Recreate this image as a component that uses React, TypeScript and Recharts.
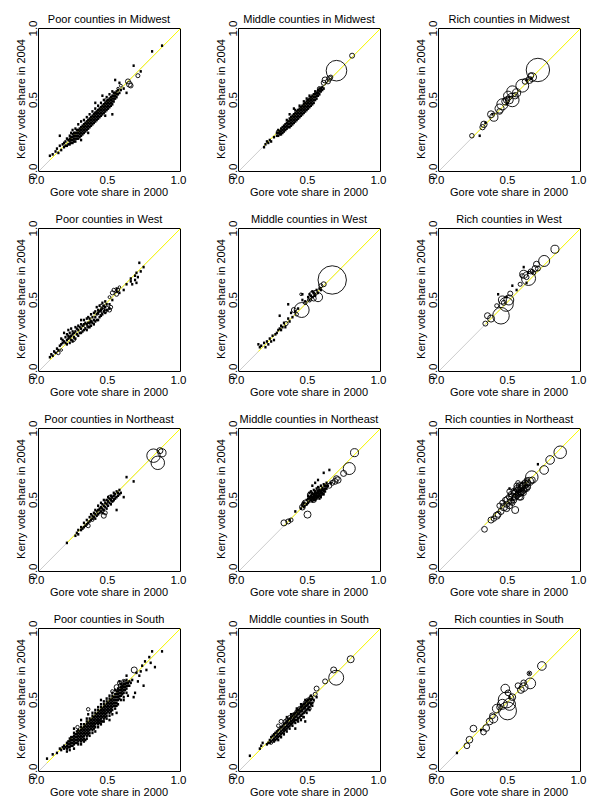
import React from "react";
import {
  ScatterChart,
  Scatter,
  XAxis,
  YAxis,
  ZAxis,
  ReferenceArea,
  ReferenceLine,
} from "recharts";

// Small counties: each row is [gore share, kerry share, kerry share, ...]
// Larger counties: each row is [gore share, kerry share, population in thousands]

const poorMidwestDots: number[][] = [
  [0.08, 0.11], [0.1, 0.12], [0.12, 0.14], [0.13, 0.16], [0.14, 0.13], [0.15, 0.18, 0.25],
  [0.16, 0.15], [0.17, 0.19], [0.18, 0.17, 0.2], [0.19, 0.21, 0.18], [0.2, 0.18, 0.23],
  [0.21, 0.19, 0.22], [0.22, 0.19, 0.21, 0.23, 0.25], [0.23, 0.2, 0.22, 0.24, 0.27],
  [0.24, 0.2, 0.22, 0.24, 0.26, 0.29], [0.25, 0.21, 0.23, 0.25, 0.27],
  [0.26, 0.21, 0.23, 0.25, 0.27, 0.3], [0.27, 0.23, 0.25, 0.27, 0.29],
  [0.28, 0.23, 0.25, 0.27, 0.29, 0.33], [0.29, 0.24, 0.26, 0.28, 0.3],
  [0.3, 0.22, 0.25, 0.27, 0.29, 0.31, 0.35], [0.31, 0.26, 0.28, 0.3, 0.32],
  [0.32, 0.27, 0.29, 0.31, 0.33, 0.36], [0.33, 0.28, 0.3, 0.32, 0.34],
  [0.34, 0.29, 0.31, 0.33, 0.35, 0.38], [0.35, 0.27, 0.3, 0.32, 0.34, 0.36],
  [0.36, 0.31, 0.33, 0.35, 0.37, 0.4], [0.37, 0.32, 0.34, 0.36, 0.38],
  [0.38, 0.33, 0.35, 0.37, 0.39, 0.42], [0.39, 0.34, 0.36, 0.38, 0.4],
  [0.4, 0.35, 0.37, 0.39, 0.41, 0.44, 0.48], [0.41, 0.36, 0.38, 0.4, 0.42],
  [0.42, 0.37, 0.39, 0.41, 0.43, 0.46], [0.43, 0.38, 0.4, 0.42, 0.44],
  [0.44, 0.39, 0.41, 0.43, 0.45, 0.48], [0.45, 0.4, 0.42, 0.44, 0.46, 0.53],
  [0.46, 0.41, 0.43, 0.45, 0.47, 0.5], [0.47, 0.39, 0.42, 0.44, 0.46, 0.48],
  [0.48, 0.43, 0.45, 0.47, 0.49, 0.52], [0.49, 0.44, 0.46, 0.48, 0.5],
  [0.5, 0.45, 0.47, 0.49, 0.51, 0.54], [0.51, 0.46, 0.48, 0.5, 0.52],
  [0.52, 0.4, 0.47, 0.49, 0.51, 0.53, 0.56], [0.53, 0.49, 0.51, 0.53, 0.55],
  [0.54, 0.51, 0.53, 0.55, 0.64], [0.55, 0.52, 0.54, 0.56], [0.56, 0.54, 0.57],
  [0.57, 0.55, 0.62], [0.58, 0.57], [0.6, 0.58], [0.62, 0.55], [0.67, 0.74],
  [0.72, 0.7], [0.8, 0.84], [0.87, 0.88],
];
const poorMidwestRings: number[][] = [
  [0.63, 0.63, 300], [0.64, 0.61, 400], [0.65, 0.6, 250], [0.7, 0.67, 200],
  [0.58, 0.6, 100], [0.47, 0.5, 70], [0.4, 0.41, 60], [0.56, 0.58, 80],
];

const middleMidwestDots: number[][] = [
  [0.18, 0.17], [0.19, 0.19], [0.2, 0.21], [0.21, 0.2], [0.22, 0.22], [0.23, 0.21],
  [0.25, 0.24], [0.27, 0.25, 0.27], [0.28, 0.25, 0.27, 0.29], [0.29, 0.26, 0.28],
  [0.3, 0.26, 0.28, 0.3], [0.31, 0.27, 0.29, 0.31], [0.32, 0.28, 0.3, 0.32],
  [0.33, 0.29, 0.31, 0.33], [0.34, 0.3, 0.32, 0.34, 0.36], [0.35, 0.31, 0.33, 0.35],
  [0.36, 0.31, 0.33, 0.35, 0.37, 0.4], [0.37, 0.32, 0.34, 0.36, 0.38],
  [0.38, 0.33, 0.35, 0.37, 0.39], [0.39, 0.34, 0.36, 0.38, 0.4, 0.44],
  [0.4, 0.35, 0.37, 0.39, 0.41, 0.43], [0.41, 0.36, 0.38, 0.4, 0.42],
  [0.42, 0.37, 0.39, 0.41, 0.43], [0.43, 0.38, 0.4, 0.42, 0.44, 0.46],
  [0.44, 0.39, 0.41, 0.43, 0.45], [0.45, 0.4, 0.42, 0.44, 0.46],
  [0.46, 0.41, 0.43, 0.45, 0.47, 0.49], [0.47, 0.42, 0.44, 0.46, 0.48],
  [0.48, 0.43, 0.45, 0.47, 0.49, 0.51], [0.49, 0.44, 0.46, 0.48, 0.5],
  [0.5, 0.45, 0.47, 0.49, 0.51, 0.53], [0.51, 0.46, 0.48, 0.5, 0.52],
  [0.52, 0.47, 0.49, 0.51, 0.53], [0.53, 0.48, 0.5, 0.52, 0.54],
  [0.54, 0.5, 0.52, 0.54, 0.56], [0.55, 0.51, 0.53, 0.55], [0.56, 0.53, 0.55, 0.57],
  [0.57, 0.54, 0.56, 0.58], [0.58, 0.56, 0.58], [0.59, 0.57, 0.59], [0.6, 0.58],
];
const middleMidwestRings: number[][] = [
  [0.28, 0.28, 150], [0.3, 0.27, 100], [0.33, 0.3, 80], [0.45, 0.45, 100],
  [0.5, 0.5, 120], [0.55, 0.55, 150], [0.57, 0.58, 200], [0.6, 0.62, 300],
  [0.61, 0.64, 450], [0.63, 0.63, 300], [0.64, 0.65, 350], [0.65, 0.66, 200],
  [0.69, 0.705, 5145], [0.8, 0.81, 300],
];

const richMidwestDots: number[][] = [
  [0.29, 0.25], [0.33, 0.34], [0.38, 0.4], [0.48, 0.47], [0.5, 0.52], [0.62, 0.64], [0.65, 0.65],
];
const richMidwestRings: number[][] = [
  [0.7, 0.71, 6640], [0.66, 0.66, 900], [0.64, 0.64, 600], [0.65, 0.67, 400],
  [0.59, 0.6, 2000], [0.52, 0.56, 1500], [0.52, 0.5, 2200], [0.49, 0.53, 1000],
  [0.5, 0.5, 700], [0.47, 0.49, 600], [0.45, 0.47, 1500], [0.43, 0.44, 1000],
  [0.39, 0.38, 800], [0.37, 0.4, 600], [0.32, 0.33, 500], [0.31, 0.31, 350],
  [0.235, 0.25, 250], [0.55, 0.55, 800], [0.61, 0.63, 400], [0.43, 0.42, 400],
  [0.48, 0.5, 500], [0.54, 0.53, 500],
];

const poorWestDots: number[][] = [
  [0.08, 0.1], [0.09, 0.12], [0.1, 0.11], [0.11, 0.14], [0.12, 0.13], [0.13, 0.16],
  [0.14, 0.15], [0.15, 0.18], [0.16, 0.19, 0.23], [0.17, 0.2, 0.22], [0.18, 0.21, 0.27],
  [0.19, 0.2, 0.24], [0.2, 0.19, 0.22, 0.26], [0.21, 0.23, 0.25, 0.29],
  [0.22, 0.2, 0.24, 0.27], [0.23, 0.22, 0.25, 0.3], [0.24, 0.21, 0.26, 0.28],
  [0.25, 0.24, 0.27], [0.26, 0.23, 0.28, 0.31], [0.27, 0.26, 0.3], [0.28, 0.25, 0.29, 0.32],
  [0.29, 0.27, 0.31], [0.3, 0.27, 0.3, 0.33, 0.36], [0.31, 0.28, 0.32], [0.32, 0.29, 0.33, 0.36],
  [0.33, 0.3, 0.34], [0.34, 0.29, 0.33, 0.37], [0.35, 0.31, 0.34, 0.38], [0.36, 0.31, 0.34, 0.37],
  [0.37, 0.32, 0.35, 0.4], [0.38, 0.34, 0.38], [0.39, 0.33, 0.36, 0.41], [0.4, 0.35, 0.38, 0.42],
  [0.41, 0.36, 0.4, 0.45], [0.42, 0.36, 0.41, 0.43], [0.43, 0.38, 0.42, 0.46],
  [0.44, 0.39, 0.43], [0.45, 0.4, 0.44, 0.48], [0.46, 0.42, 0.46], [0.47, 0.41, 0.45, 0.49],
  [0.48, 0.43, 0.47], [0.5, 0.44, 0.47], [0.52, 0.5], [0.55, 0.56, 0.58], [0.57, 0.55],
  [0.6, 0.57], [0.62, 0.61], [0.65, 0.63, 0.65], [0.66, 0.61], [0.68, 0.64, 0.67],
  [0.69, 0.62, 0.69], [0.7, 0.66], [0.71, 0.76], [0.72, 0.7], [0.74, 0.73],
];
const poorWestRings: number[][] = [
  [0.14, 0.13, 150], [0.16, 0.15, 80], [0.25, 0.22, 100], [0.22, 0.24, 80],
  [0.33, 0.32, 150], [0.35, 0.33, 120], [0.37, 0.35, 100], [0.43, 0.41, 200],
  [0.45, 0.43, 250], [0.47, 0.42, 150], [0.48, 0.44, 300], [0.5, 0.43, 200],
  [0.51, 0.45, 150], [0.44, 0.46, 120], [0.52, 0.55, 200], [0.53, 0.57, 150],
  [0.55, 0.54, 200], [0.56, 0.57, 120], [0.5, 0.52, 100], [0.57, 0.59, 80],
];

const middleWestDots: number[][] = [
  [0.14, 0.19], [0.15, 0.17], [0.16, 0.18], [0.18, 0.2], [0.19, 0.17], [0.2, 0.21],
  [0.21, 0.19], [0.22, 0.23], [0.23, 0.21], [0.24, 0.25], [0.25, 0.22], [0.26, 0.26],
  [0.27, 0.27], [0.28, 0.29], [0.29, 0.3, 0.39], [0.3, 0.29, 0.32], [0.31, 0.31],
  [0.32, 0.34], [0.33, 0.31], [0.35, 0.37, 0.47], [0.36, 0.35], [0.37, 0.41],
  [0.38, 0.38], [0.4, 0.42], [0.42, 0.44], [0.45, 0.5, 0.54], [0.47, 0.49], [0.49, 0.52],
  [0.5, 0.5, 0.54], [0.51, 0.53], [0.52, 0.52, 0.56], [0.53, 0.55], [0.54, 0.53],
  [0.55, 0.57], [0.56, 0.55], [0.57, 0.58], [0.58, 0.57],
];
const middleWestRings: number[][] = [
  [0.66, 0.64, 9780], [0.445, 0.43, 2700], [0.56, 0.52, 1000], [0.52, 0.54, 440],
  [0.54, 0.55, 300], [0.5, 0.5, 200], [0.39, 0.43, 300], [0.335, 0.335, 200],
  [0.6, 0.61, 300], [0.58, 0.6, 200], [0.53, 0.51, 300], [0.44, 0.54, 80],
  [0.47, 0.48, 150], [0.41, 0.4, 150],
];

const richWestDots: number[][] = [
  [0.42, 0.54], [0.52, 0.6], [0.55, 0.57], [0.6, 0.73], [0.62, 0.62], [0.48, 0.52], [0.63, 0.69],
];
const richWestRings: number[][] = [
  [0.82, 0.855, 780], [0.744, 0.773, 1470], [0.69, 0.75, 440], [0.68, 0.72, 440],
  [0.66, 0.7, 200], [0.67, 0.69, 200], [0.634, 0.651, 2400], [0.6, 0.68, 780],
  [0.575, 0.61, 200], [0.59, 0.67, 200], [0.62, 0.66, 300], [0.495, 0.5, 1200],
  [0.45, 0.5, 780], [0.477, 0.47, 2400], [0.44, 0.39, 3340], [0.41, 0.46, 200],
  [0.37, 0.37, 600], [0.345, 0.39, 440], [0.33, 0.335, 300], [0.505, 0.545, 300],
  [0.65, 0.7, 300], [0.7, 0.72, 300], [0.46, 0.48, 300],
];

const poorNortheastDots: number[][] = [
  [0.2, 0.2], [0.26, 0.25], [0.27, 0.27], [0.28, 0.26, 0.29], [0.3, 0.29, 0.31], [0.31, 0.3],
  [0.32, 0.31, 0.34], [0.33, 0.32], [0.34, 0.33, 0.36], [0.35, 0.34], [0.36, 0.35, 0.38],
  [0.37, 0.36, 0.4], [0.38, 0.37, 0.39], [0.39, 0.38, 0.41], [0.4, 0.37, 0.4, 0.43],
  [0.41, 0.39, 0.42], [0.42, 0.4, 0.43, 0.46], [0.43, 0.41, 0.44], [0.44, 0.42, 0.45, 0.48],
  [0.45, 0.41, 0.44, 0.47], [0.46, 0.43, 0.46, 0.5], [0.47, 0.45, 0.48], [0.48, 0.44, 0.47, 0.5],
  [0.49, 0.46, 0.49, 0.52], [0.5, 0.48, 0.51], [0.51, 0.47, 0.5, 0.53], [0.52, 0.49, 0.52],
  [0.53, 0.5, 0.53, 0.55], [0.54, 0.51, 0.54], [0.55, 0.43, 0.52, 0.56], [0.56, 0.53, 0.55],
  [0.57, 0.54, 0.57], [0.58, 0.55], [0.6, 0.52], [0.62, 0.66], [0.67, 0.63],
];
const poorNortheastRings: number[][] = [
  [0.81, 0.81, 2200], [0.84, 0.76, 2200], [0.87, 0.83, 780], [0.855, 0.845, 440],
  [0.46, 0.39, 300], [0.47, 0.41, 200], [0.52, 0.5, 200], [0.35, 0.32, 200],
  [0.5, 0.52, 150], [0.48, 0.49, 150], [0.44, 0.43, 120], [0.53, 0.52, 150], [0.38, 0.36, 100],
];

const middleNortheastDots: number[][] = [
  [0.36, 0.36], [0.4, 0.42], [0.44, 0.44], [0.45, 0.46], [0.46, 0.45, 0.48], [0.48, 0.47, 0.5],
  [0.49, 0.48, 0.51, 0.53], [0.5, 0.49, 0.51, 0.52, 0.55], [0.51, 0.5, 0.52, 0.53, 0.56],
  [0.52, 0.49, 0.51, 0.52, 0.54, 0.55, 0.6], [0.53, 0.5, 0.51, 0.53, 0.54, 0.57],
  [0.54, 0.5, 0.52, 0.53, 0.55, 0.56, 0.62], [0.55, 0.51, 0.52, 0.54, 0.55, 0.58],
  [0.56, 0.52, 0.53, 0.55, 0.56, 0.59, 0.64], [0.57, 0.51, 0.53, 0.54, 0.56, 0.57],
  [0.58, 0.52, 0.53, 0.55, 0.56, 0.6], [0.59, 0.54, 0.55, 0.57, 0.58], [0.6, 0.54, 0.56, 0.57, 0.61, 0.69],
  [0.61, 0.56, 0.58, 0.6], [0.62, 0.58, 0.6, 0.62], [0.63, 0.6], [0.64, 0.71], [0.65, 0.62],
];
const middleNortheastRings: number[][] = [
  [0.817, 0.831, 780], [0.78, 0.72, 1750], [0.74, 0.686, 440], [0.7, 0.64, 500],
  [0.68, 0.63, 400], [0.69, 0.65, 400], [0.66, 0.62, 300], [0.64, 0.6, 300],
  [0.32, 0.34, 440], [0.35, 0.35, 300], [0.37, 0.36, 200], [0.486, 0.398, 600],
  [0.45, 0.45, 400], [0.47, 0.48, 400], [0.46, 0.47, 300], [0.52, 0.52, 300],
  [0.53, 0.5, 300], [0.55, 0.55, 300], [0.57, 0.56, 300], [0.58, 0.58, 200],
  [0.61, 0.59, 200], [0.5, 0.54, 200], [0.54, 0.52, 200], [0.56, 0.54, 200],
];

const richNortheastDots: number[][] = [
  [0.7, 0.75], [0.5, 0.58], [0.53, 0.57], [0.57, 0.6], [0.59, 0.62], [0.6, 0.58], [0.55, 0.56],
  [0.56, 0.55], [0.58, 0.57], [0.54, 0.54], [0.61, 0.6], [0.52, 0.51],
];
const richNortheastRings: number[][] = [
  [0.857, 0.834, 1900], [0.786, 0.78, 900], [0.744, 0.71, 900], [0.657, 0.66, 1900],
  [0.64, 0.63, 800], [0.54, 0.43, 600], [0.324, 0.295, 400], [0.41, 0.39, 600],
  [0.37, 0.36, 450], [0.39, 0.37, 350], [0.44, 0.42, 450], [0.46, 0.45, 650],
  [0.48, 0.47, 450], [0.49, 0.5, 800], [0.5, 0.46, 450], [0.52, 0.52, 650],
  [0.53, 0.5, 450], [0.54, 0.55, 650], [0.55, 0.53, 450], [0.56, 0.57, 450],
  [0.57, 0.55, 650], [0.58, 0.58, 450], [0.59, 0.56, 450], [0.6, 0.6, 650],
  [0.61, 0.58, 450], [0.62, 0.61, 450], [0.6, 0.55, 350], [0.58, 0.52, 450],
  [0.63, 0.59, 350], [0.51, 0.54, 350], [0.55, 0.6, 350], [0.52, 0.48, 350],
  [0.47, 0.5, 350], [0.43, 0.46, 350], [0.56, 0.62, 250], [0.62, 0.64, 250],
  [0.5, 0.52, 450], [0.51, 0.49, 450], [0.53, 0.56, 450], [0.54, 0.52, 450],
  [0.55, 0.58, 450], [0.56, 0.54, 450], [0.57, 0.6, 450], [0.58, 0.55, 450],
  [0.59, 0.6, 450], [0.6, 0.57, 450], [0.61, 0.62, 450], [0.62, 0.58, 450],
  [0.63, 0.62, 450], [0.57, 0.52, 450], [0.48, 0.44, 450], [0.45, 0.48, 350],
  [0.42, 0.4, 450], [0.66, 0.64, 450], [0.5, 0.56, 350],
];

const poorSouthDots: number[][] = [
  [0.06, 0.09], [0.1, 0.12], [0.13, 0.13], [0.15, 0.16], [0.16, 0.15], [0.17, 0.17],
  [0.18, 0.16, 0.18], [0.19, 0.17], [0.2, 0.14, 0.16, 0.18, 0.2], [0.21, 0.17, 0.19, 0.21],
  [0.22, 0.15, 0.17, 0.19, 0.21, 0.23], [0.23, 0.18, 0.2, 0.22, 0.24], [0.24, 0.18, 0.2, 0.22, 0.24],
  [0.25, 0.16, 0.19, 0.21, 0.23, 0.25, 0.27, 0.3], [0.26, 0.2, 0.22, 0.24, 0.26],
  [0.27, 0.2, 0.22, 0.24, 0.26, 0.28], [0.28, 0.19, 0.21, 0.23, 0.25, 0.27, 0.29],
  [0.29, 0.22, 0.24, 0.26, 0.28], [0.3, 0.19, 0.21, 0.23, 0.25, 0.27, 0.29, 0.31, 0.33, 0.36],
  [0.31, 0.22, 0.24, 0.26, 0.28, 0.3], [0.32, 0.21, 0.23, 0.25, 0.27, 0.29, 0.31, 0.33],
  [0.33, 0.22, 0.26, 0.28, 0.3, 0.32], [0.34, 0.23, 0.25, 0.27, 0.29, 0.31, 0.33, 0.35, 0.37],
  [0.35, 0.26, 0.28, 0.3, 0.32, 0.34, 0.4], [0.36, 0.25, 0.27, 0.29, 0.31, 0.33, 0.35, 0.37],
  [0.37, 0.3, 0.32, 0.34, 0.36], [0.38, 0.27, 0.29, 0.31, 0.33, 0.35, 0.37, 0.39, 0.41],
  [0.39, 0.3, 0.32, 0.34, 0.36, 0.38], [0.4, 0.28, 0.31, 0.33, 0.35, 0.37, 0.39, 0.41, 0.43],
  [0.41, 0.34, 0.36, 0.38, 0.4], [0.42, 0.31, 0.33, 0.35, 0.37, 0.39, 0.41, 0.43, 0.45],
  [0.43, 0.34, 0.36, 0.38, 0.4, 0.42], [0.44, 0.33, 0.35, 0.37, 0.39, 0.41, 0.43, 0.45, 0.47, 0.5],
  [0.45, 0.35, 0.38, 0.4, 0.42, 0.44], [0.46, 0.35, 0.37, 0.39, 0.41, 0.43, 0.45, 0.47, 0.49],
  [0.47, 0.38, 0.4, 0.42, 0.44, 0.46], [0.48, 0.37, 0.39, 0.41, 0.43, 0.45, 0.47, 0.49, 0.51],
  [0.49, 0.42, 0.44, 0.46, 0.48], [0.5, 0.36, 0.39, 0.41, 0.43, 0.45, 0.47, 0.49, 0.51, 0.53],
  [0.51, 0.42, 0.44, 0.46, 0.48, 0.5], [0.52, 0.4, 0.43, 0.45, 0.47, 0.49, 0.51, 0.53, 0.55],
  [0.53, 0.46, 0.48, 0.5, 0.52], [0.54, 0.44, 0.46, 0.48, 0.5, 0.52, 0.54, 0.57],
  [0.55, 0.41, 0.46, 0.48, 0.5, 0.52, 0.54, 0.56], [0.56, 0.47, 0.5, 0.52, 0.54, 0.56, 0.58],
  [0.57, 0.51, 0.53, 0.55, 0.57, 0.63], [0.58, 0.5, 0.53, 0.55, 0.57, 0.59, 0.61],
  [0.59, 0.54, 0.56, 0.58, 0.6], [0.6, 0.5, 0.52, 0.55, 0.57, 0.59, 0.61, 0.63],
  [0.61, 0.57, 0.59, 0.61], [0.62, 0.55, 0.58, 0.6, 0.62, 0.64, 0.67], [0.63, 0.53, 0.6, 0.62],
  [0.64, 0.6, 0.63], [0.65, 0.62], [0.66, 0.64], [0.67, 0.52], [0.68, 0.55], [0.69, 0.69],
  [0.7, 0.63], [0.71, 0.67], [0.72, 0.7], [0.73, 0.74], [0.74, 0.6], [0.75, 0.77],
  [0.76, 0.71], [0.78, 0.8], [0.79, 0.76], [0.8, 0.84], [0.82, 0.73], [0.87, 0.84],
];
const poorSouthRings: number[][] = [
  [0.674, 0.71, 440], [0.55, 0.59, 300], [0.58, 0.6, 300], [0.57, 0.62, 200],
  [0.35, 0.435, 150], [0.275, 0.31, 150], [0.6, 0.63, 200], [0.52, 0.56, 150],
  [0.45, 0.42, 100], [0.38, 0.33, 100], [0.42, 0.35, 80],
];

const middleSouthDots: number[][] = [
  [0.08, 0.11], [0.15, 0.16], [0.16, 0.18], [0.17, 0.2], [0.2, 0.19], [0.21, 0.2],
  [0.22, 0.2, 0.22], [0.23, 0.21, 0.24], [0.24, 0.22, 0.25], [0.25, 0.21, 0.23, 0.26],
  [0.26, 0.22, 0.24, 0.27], [0.27, 0.23, 0.25, 0.28], [0.28, 0.22, 0.24, 0.26, 0.29],
  [0.29, 0.25, 0.27, 0.3], [0.3, 0.24, 0.26, 0.28, 0.31], [0.31, 0.27, 0.29, 0.32],
  [0.32, 0.26, 0.28, 0.3, 0.33], [0.33, 0.29, 0.31, 0.34], [0.34, 0.28, 0.3, 0.32, 0.35, 0.38],
  [0.35, 0.31, 0.33, 0.36], [0.36, 0.3, 0.32, 0.34, 0.37], [0.37, 0.33, 0.35, 0.38, 0.4],
  [0.38, 0.32, 0.34, 0.36, 0.39], [0.39, 0.35, 0.37, 0.4], [0.4, 0.3, 0.34, 0.36, 0.38, 0.41],
  [0.41, 0.36, 0.39, 0.42, 0.44], [0.42, 0.35, 0.37, 0.4, 0.43], [0.43, 0.38, 0.41, 0.44],
  [0.44, 0.36, 0.39, 0.42, 0.45, 0.47], [0.45, 0.4, 0.43, 0.46], [0.46, 0.38, 0.41, 0.44, 0.47],
  [0.47, 0.35, 0.42, 0.45, 0.48, 0.5], [0.48, 0.41, 0.43, 0.46, 0.49], [0.49, 0.44, 0.47, 0.5],
  [0.5, 0.43, 0.45, 0.48, 0.51], [0.51, 0.47, 0.5, 0.53], [0.52, 0.46, 0.48, 0.51], [0.53, 0.5],
  [0.55, 0.52],
];
const middleSouthRings: number[][] = [
  [0.28, 0.32, 150], [0.3, 0.35, 200], [0.32, 0.3, 150], [0.33, 0.35, 200],
  [0.35, 0.33, 200], [0.36, 0.38, 150], [0.38, 0.36, 200], [0.39, 0.4, 150],
  [0.4, 0.37, 200], [0.41, 0.42, 150], [0.42, 0.39, 200], [0.43, 0.44, 200],
  [0.44, 0.41, 200], [0.45, 0.46, 150], [0.46, 0.43, 200], [0.47, 0.48, 200],
  [0.48, 0.45, 150], [0.49, 0.5, 200], [0.5, 0.47, 200], [0.51, 0.52, 150],
  [0.52, 0.49, 150], [0.54, 0.54, 200], [0.55, 0.58, 300], [0.61, 0.63, 300],
  [0.67, 0.71, 440], [0.688, 0.656, 2700], [0.79, 0.785, 600], [0.26, 0.26, 150],
  [0.25, 0.22, 100], [0.23, 0.2, 100], [0.34, 0.36, 150], [0.37, 0.34, 150],
  [0.44, 0.38, 150], [0.46, 0.46, 150], [0.5, 0.44, 150], [0.42, 0.42, 150],
];

const richSouthDots: number[][] = [
  [0.13, 0.13], [0.64, 0.686], [0.5, 0.52], [0.3, 0.29],
];
const richSouthRings: number[][] = [
  [0.728, 0.738, 900], [0.64, 0.686, 250], [0.646, 0.616, 1400], [0.6, 0.59, 900],
  [0.58, 0.57, 550], [0.6, 0.62, 400], [0.47, 0.58, 900], [0.477, 0.5, 3100],
  [0.486, 0.424, 3900], [0.5, 0.47, 1750], [0.45, 0.47, 1200], [0.41, 0.44, 900],
  [0.387, 0.37, 900], [0.36, 0.35, 550], [0.336, 0.304, 550], [0.246, 0.3, 550],
  [0.317, 0.276, 400], [0.218, 0.222, 550], [0.2, 0.18, 400], [0.52, 0.52, 550],
  [0.43, 0.45, 400], [0.49, 0.55, 400], [0.38, 0.39, 400], [0.56, 0.6, 400],
];

const axisTicks = [0, 0.5, 1];
const FONT = "Arial, 'Liberation Sans', Helvetica, sans-serif";

const panels = [
  { title: "Poor counties in Midwest", dots: poorMidwestDots, rings: poorMidwestRings },
  { title: "Middle counties in Midwest", dots: middleMidwestDots, rings: middleMidwestRings },
  { title: "Rich counties in Midwest", dots: richMidwestDots, rings: richMidwestRings },
  { title: "Poor counties in West", dots: poorWestDots, rings: poorWestRings },
  { title: "Middle counties in West", dots: middleWestDots, rings: middleWestRings },
  { title: "Rich counties in West", dots: richWestDots, rings: richWestRings },
  { title: "Poor counties in Northeast", dots: poorNortheastDots, rings: poorNortheastRings },
  { title: "Middle counties in Northeast", dots: middleNortheastDots, rings: middleNortheastRings },
  { title: "Rich counties in Northeast", dots: richNortheastDots, rings: richNortheastRings },
  { title: "Poor counties in South", dots: poorSouthDots, rings: poorSouthRings },
  { title: "Middle counties in South", dots: middleSouthDots, rings: middleSouthRings },
  { title: "Rich counties in South", dots: richSouthDots, rings: richSouthRings },
];

const toDots = (cols: number[][]) =>
  cols.flatMap(([gore, ...kerrys]) => kerrys.map((kerry) => ({ gore, kerry })));
const toRings = (rows: number[][]) =>
  rows.map(([gore, kerry, pop]) => ({ gore, kerry, pop }));

// tiny counties come out as little dark specks
const DotShape = (props: any) => (
  <rect x={props.cx - 1.1} y={props.cy - 1.3} width={2.2} height={2.6} fill="#000" />
);

// circle area follows population (ZAxis scale)
const RingShape = (props: any) => {
  const r =
    props.size != null
      ? Math.sqrt(props.size / Math.PI)
      : (props.width ?? 0) / 2;
  return (
    <circle cx={props.cx} cy={props.cy} r={Math.max(r, 1)} fill="none" stroke="#000" strokeWidth={0.9} />
  );
};

const XTick = ({ x, payload }: any) => (
  <text x={x - 2} y={183.5} textAnchor="middle" fontSize={11.5} fontFamily={FONT} fill="#000">
    {Number(payload.value).toFixed(1)}
  </text>
);

const YTick = ({ y, payload }: any) => (
  <text
    x={36.5}
    y={y}
    transform={`rotate(-90 36.5 ${y})`}
    textAnchor="middle"
    fontSize={11.5}
    fontFamily={FONT}
    fill="#000"
  >
    {Number(payload.value).toFixed(1)}
  </text>
);

function Panel({ title, dots, rings }: { title: string; dots: number[][]; rings: number[][] }) {
  const dotData = toDots(dots);
  const ringData = toRings(rings);
  // yellow part of the diagonal starts where the counties start
  const lowest = Math.min(...dotData.map((d) => d.gore), ...ringData.map((d) => d.gore));
  return (
    <div style={{ position: "relative", width: 200, height: 200 }}>
      <div
        style={{
          position: "absolute",
          left: 38,
          top: 12.5,
          width: 142,
          textAlign: "center",
          fontSize: 11,
          lineHeight: "12px",
          fontFamily: FONT,
          color: "#000",
          whiteSpace: "nowrap",
        }}
      >
        {title}
      </div>
      <ScatterChart width={200} height={200} margin={{ top: 28.5, right: 19.5, bottom: 0, left: 0 }}>
        <XAxis
          type="number"
          dataKey="gore"
          domain={[0, 1]}
          ticks={axisTicks}
          height={28.5}
          axisLine={false}
          tickLine={false}
          tick={<XTick />}
          label={() => (
            <text x={109} y={196} textAnchor="middle" fontSize={11} fontFamily={FONT} fill="#000">
              Gore vote share in 2000
            </text>
          )}
        />
        <YAxis
          type="number"
          dataKey="kerry"
          domain={[0, 1]}
          ticks={axisTicks}
          width={38.5}
          axisLine={false}
          tickLine={false}
          tick={<YTick />}
          label={() => (
            <text
              x={25}
              y={99}
              transform="rotate(-90 25 99)"
              textAnchor="middle"
              fontSize={11}
              fontFamily={FONT}
              fill="#000"
            >
              Kerry vote share in 2004
            </text>
          )}
        />
        <ZAxis type="number" dataKey="pop" domain={[0, 10000]} range={[0, 648]} />
        <ReferenceArea x1={0} x2={1} y1={0} y2={1} fill="none" fillOpacity={0} stroke="#000" strokeWidth={1} />
        <ReferenceLine
          segment={[
            { x: 0, y: 0 },
            { x: 1, y: 1 },
          ]}
          stroke="#cccccc"
          strokeWidth={1}
        />
        <Scatter data={dotData} shape={DotShape} isAnimationActive={false} />
        <Scatter data={ringData} shape={RingShape} isAnimationActive={false} />
        <ReferenceLine
          segment={[
            { x: lowest, y: lowest },
            { x: 1, y: 1 },
          ]}
          stroke="#ffff00"
          strokeWidth={1}
        />
      </ScatterChart>
    </div>
  );
}

export default function App() {
  return (
    <div
      style={{
        position: "absolute",
        left: 0,
        top: 0,
        width: 600,
        height: 800,
        background: "#fff",
        display: "grid",
        gridTemplateColumns: "200px 200px 200px",
        gridAutoRows: "200px",
      }}
    >
      {panels.map((p) => (
        <Panel key={p.title} title={p.title} dots={p.dots} rings={p.rings} />
      ))}
    </div>
  );
}
